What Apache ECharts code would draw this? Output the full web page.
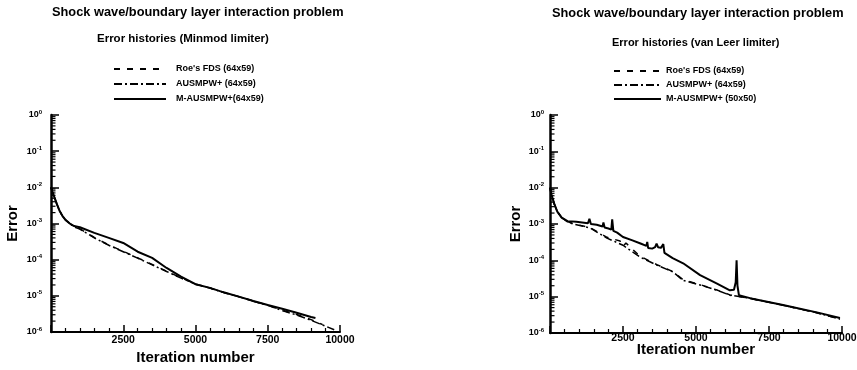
<!DOCTYPE html>
<html>
<head>
<meta charset="utf-8">
<script src="https://cdn.jsdelivr.net/npm/echarts@6/dist/echarts.min.js"></script>
<style>
html,body{margin:0;padding:0;background:#fff;}
#chart{width:857px;height:370px;}
</style>
</head>
<body>
<div id="chart"></div>
<script>
// ---------- texts ----------
const mainTitle = 'Shock wave/boundary layer interaction problem';
const leftSubtitle = 'Error histories (Minmod limiter)';
const rightSubtitle = 'Error histories (van Leer limiter)';
const leftNames = ["Roe's FDS (64x59)", 'AUSMPW+ (64x59)', 'M-AUSMPW+(64x59)'];
const rightNames = ["Roe's FDS (64x59) ", 'AUSMPW+ (64x59) ', 'M-AUSMPW+ (50x50)'];
const xTickValues = [2500, 5000, 7500, 10000];
const yExponents = [0, -1, -2, -3, -4, -5, -6];

// ---------- data: [iteration, error] ----------
const leftSolid = [[0,1.0e-2],[50,7.4e-3],[100,5.8e-3],[200,3.5e-3],[300,2.2e-3],[400,1.6e-3],[500,1.26e-3],[650,1.0e-3],[800,8.5e-4],[1000,7.9e-4],[1500,5.5e-4],[2000,4.0e-4],[2500,2.9e-4],[3000,1.66e-4],[3500,1.12e-4],[4000,5.9e-5],[4500,3.4e-5],[5000,2.1e-5],[5500,1.66e-5],[6000,1.23e-5],[6500,9.5e-6],[7000,7.2e-6],[7500,5.6e-6],[8000,4.4e-6],[8500,3.4e-6],[9000,2.6e-6],[9150,2.45e-6]];
const leftDashDot = [[0,1.0e-2],[50,7.4e-3],[100,5.8e-3],[200,3.5e-3],[300,2.2e-3],[400,1.6e-3],[500,1.26e-3],[650,1.0e-3],[800,8.0e-4],[1000,7.0e-4],[1500,4.0e-4],[2000,2.5e-4],[2500,1.66e-4],[3000,1.1e-4],[3500,7.2e-5],[4000,4.7e-5],[4500,3.1e-5],[5000,2.1e-5],[5500,1.64e-5],[6000,1.22e-5],[6500,9.4e-6],[7000,7.1e-6],[7500,5.5e-6],[8000,3.9e-6],[8500,2.95e-6],[9000,2.1e-6],[9500,1.45e-6],[9800,1.15e-6]];
const leftDashed = [[0,1.0e-2],[50,7.4e-3],[100,5.8e-3],[200,3.5e-3],[300,2.2e-3],[400,1.6e-3],[500,1.26e-3],[650,1.0e-3],[800,8.1e-4],[1000,7.1e-4],[1500,4.1e-4],[2000,2.55e-4],[2500,1.7e-4],[3000,1.12e-4],[3500,7.4e-5],[4000,4.8e-5],[4500,3.15e-5],[5000,2.12e-5],[5500,1.65e-5],[6000,1.23e-5],[6500,9.5e-6],[7000,7.2e-6],[7500,5.55e-6],[8000,4.0e-6],[8500,3.05e-6],[9000,2.2e-6],[9400,1.6e-6]];

const rightSolid = [[0,1.0e-2],[50,6.5e-3],[150,3.5e-3],[250,2.2e-3],[400,1.5e-3],[600,1.2e-3],[900,1.15e-3],[1100,1.1e-3],[1300,1.05e-3],[1350,1.4e-3],[1400,1.0e-3],[1600,9.5e-4],[1800,8.5e-4],[1830,1.1e-3],[1870,8.0e-4],[2000,7.5e-4],[2100,7.0e-4],[2130,1.35e-3],[2170,6.5e-4],[2300,5.8e-4],[2500,4.4e-4],[2800,3.6e-4],[3100,2.9e-4],[3300,2.5e-4],[3330,3.2e-4],[3360,2.2e-4],[3500,2.1e-4],[3600,2.3e-4],[3650,2.9e-4],[3700,2.3e-4],[3800,2.2e-4],[3880,2.8e-4],[3920,1.6e-4],[4200,1.15e-4],[4560,8.3e-5],[5140,3.9e-5],[5720,2.3e-5],[6160,1.5e-5],[6300,1.55e-5],[6360,2.5e-5],[6390,1.0e-4],[6420,2.0e-5],[6470,1.1e-5],[6850,9.1e-6],[7980,5.9e-6],[9140,3.7e-6],[9930,2.6e-6]];
const rightDashDot = [[0,1.0e-2],[50,6.5e-3],[150,3.5e-3],[250,2.2e-3],[400,1.5e-3],[600,1.15e-3],[790,1.0e-3],[1370,7.8e-4],[1950,4.1e-4],[2500,2.6e-4],[3080,1.23e-4],[3660,7.4e-5],[4210,4.8e-5],[4560,2.8e-5],[5140,2.1e-5],[5720,1.5e-5],[6160,1.1e-5],[6850,9.0e-6],[7980,5.8e-6],[9140,3.6e-6],[9930,2.4e-6]];
const rightDashed = [[0,1.0e-2],[50,6.5e-3],[150,3.5e-3],[250,2.2e-3],[400,1.5e-3],[600,1.17e-3],[790,1.02e-3],[1370,8.0e-4],[1950,4.3e-4],[2400,3.4e-4],[2500,2.4e-4],[2600,3.0e-4],[3080,1.3e-4],[3660,7.6e-5],[4210,4.9e-5],[4560,2.9e-5],[5140,2.15e-5],[5720,1.52e-5],[6160,1.12e-5],[6850,9.0e-6],[7980,5.8e-6],[9140,3.6e-6],[9900,2.45e-6]];

// ---------- decoration: minor log ticks (axis ornament) ----------
const minorDecades = [-6, -5, -4, -3, -2, -1];
const minorMultipliers = [2, 3, 4, 5, 6, 7, 8, 9];
const minorTickValues = [];
minorDecades.forEach(function (d) {
  minorMultipliers.forEach(function (m) { minorTickValues.push([0, m * Math.pow(10, d)]); });
});

const FONT = "'Liberation Sans', Arial, sans-serif";
const BLACK = '#000';

function yLabel(v) {
  const e = Math.round(Math.log10(v));
  return '{b|10}{s|' + e + '}';
}

function makeXAxis(gridIndex, nameGap, labelMargin) {
  return {
    gridIndex: gridIndex, type: 'value', min: 0, max: 10000, interval: 2500,
    name: 'Iteration number', nameLocation: 'middle', nameGap: nameGap, nameMoveOverlap: false,
    nameTextStyle: { fontFamily: FONT, fontWeight: 'bold', fontSize: 15, color: BLACK },
    axisLine: { lineStyle: { color: BLACK, width: 2 } },
    axisTick: { inside: true, length: 7, lineStyle: { color: BLACK, width: 1.5 } },
    minorTick: { show: true, splitNumber: 5, length: 4, lineStyle: { color: BLACK, width: 1.2 } },
    splitLine: { show: false },
    axisLabel: {
      margin: labelMargin, fontFamily: FONT, fontWeight: 'bold', fontSize: 10.5, color: BLACK,
      formatter: function (v) { return xTickValues.indexOf(v) >= 0 ? String(v) : ''; }
    }
  };
}

function makeYAxis(gridIndex, nameGap, labelMargin) {
  return {
    gridIndex: gridIndex, type: 'log', logBase: 10, min: 1e-6, max: 1, interval: 1,
    name: 'Error', nameLocation: 'middle', nameGap: nameGap, nameRotate: 90,
    nameTextStyle: { fontFamily: FONT, fontWeight: 'bold', fontSize: 15, color: BLACK },
    axisLine: { lineStyle: { color: BLACK, width: 2.5 } },
    axisTick: { inside: true, length: 8, lineStyle: { color: BLACK, width: 1.5 } },
    splitLine: { show: false },
    axisLabel: {
      margin: labelMargin, formatter: yLabel,
      rich: {
        b: { fontFamily: FONT, fontWeight: 'bold', fontSize: 9, color: BLACK },
        s: { fontFamily: FONT, fontWeight: 'bold', fontSize: 6, color: BLACK, verticalAlign: 'top', padding: [0, 0, 6, 0] }
      }
    }
  };
}

function lineSeries(name, data, idx, type, width) {
  return {
    name: name, type: 'line', xAxisIndex: idx, yAxisIndex: idx, data: data,
    showSymbol: false, symbol: 'none', smooth: false, z: 3,
    lineStyle: { color: BLACK, width: width, type: type },
    itemStyle: { color: BLACK }
  };
}

function minorTickSeries(idx) {
  return {
    type: 'custom', xAxisIndex: idx, yAxisIndex: idx, data: minorTickValues, silent: true, z: 4,
    renderItem: function (params, api) {
      const p = api.coord([api.value(0), api.value(1)]);
      return { type: 'line', shape: { x1: p[0], y1: p[1], x2: p[0] + 4.5, y2: p[1] }, style: { stroke: BLACK, lineWidth: 1.2 } };
    }
  };
}

const dashPattern = [6, 7];
const dashDotPattern = [8, 3, 2, 3];

function legendItems(names) {
  return names.map(function (n) { return { name: n, itemStyle: { opacity: 0 } }; });
}

const option = {
  backgroundColor: '#fff',
  animation: false,
  title: [
    { text: mainTitle, left: 52, top: 6, padding: 0, textStyle: { fontFamily: FONT, fontWeight: 'bold', fontSize: 12.8, color: BLACK } },
    { text: leftSubtitle, left: 97, top: 33, padding: 0, textStyle: { fontFamily: FONT, fontWeight: 'bold', fontSize: 11.5, color: BLACK } },
    { text: mainTitle, left: 552, top: 7, padding: 0, textStyle: { fontFamily: FONT, fontWeight: 'bold', fontSize: 12.8, color: BLACK } },
    { text: rightSubtitle, left: 612, top: 37, padding: 0, textStyle: { fontFamily: FONT, fontWeight: 'bold', fontSize: 11, color: BLACK } }
  ],
  legend: [
    {
      data: legendItems(leftNames), orient: 'vertical', left: 113, top: 64, padding: 0,
      itemWidth: 52, itemHeight: 10, itemGap: 5, selectedMode: false,
      itemStyle: { opacity: 0, borderWidth: 0 },
      textStyle: { fontFamily: FONT, fontWeight: 'bold', fontSize: 9, color: BLACK, lineHeight: 10, padding: [0, 0, 0, 5] }
    },
    {
      data: legendItems(rightNames), orient: 'vertical', left: 613, top: 66, padding: 0,
      itemWidth: 47, itemHeight: 10, itemGap: 4, selectedMode: false,
      itemStyle: { opacity: 0, borderWidth: 0 },
      textStyle: { fontFamily: FONT, fontWeight: 'bold', fontSize: 9, color: BLACK, lineHeight: 10 }
    }
  ],
  grid: [
    { left: 51, top: 115, width: 289, height: 217, outerBoundsMode: 'none', containLabel: false },
    { left: 550, top: 115, width: 292, height: 218, outerBoundsMode: 'none', containLabel: false }
  ],
  xAxis: [makeXAxis(0, 18, 3), makeXAxis(1, 9, 0)],
  yAxis: [makeYAxis(0, 31, 9), makeYAxis(1, 27, 6)],
  series: [
    lineSeries(leftNames[0], leftDashed, 0, dashPattern, 1.5),
    lineSeries(leftNames[1], leftDashDot, 0, dashDotPattern, 1.5),
    lineSeries(leftNames[2], leftSolid, 0, 'solid', 2),
    lineSeries(rightNames[0], rightDashed, 1, dashPattern, 1.5),
    lineSeries(rightNames[1], rightDashDot, 1, dashDotPattern, 1.5),
    lineSeries(rightNames[2], rightSolid, 1, 'solid', 2),
    minorTickSeries(0),
    minorTickSeries(1)
  ]
};

const chart = echarts.init(document.getElementById('chart'), null, { renderer: 'canvas' });
chart.setOption(option);
</script>
</body>
</html>
